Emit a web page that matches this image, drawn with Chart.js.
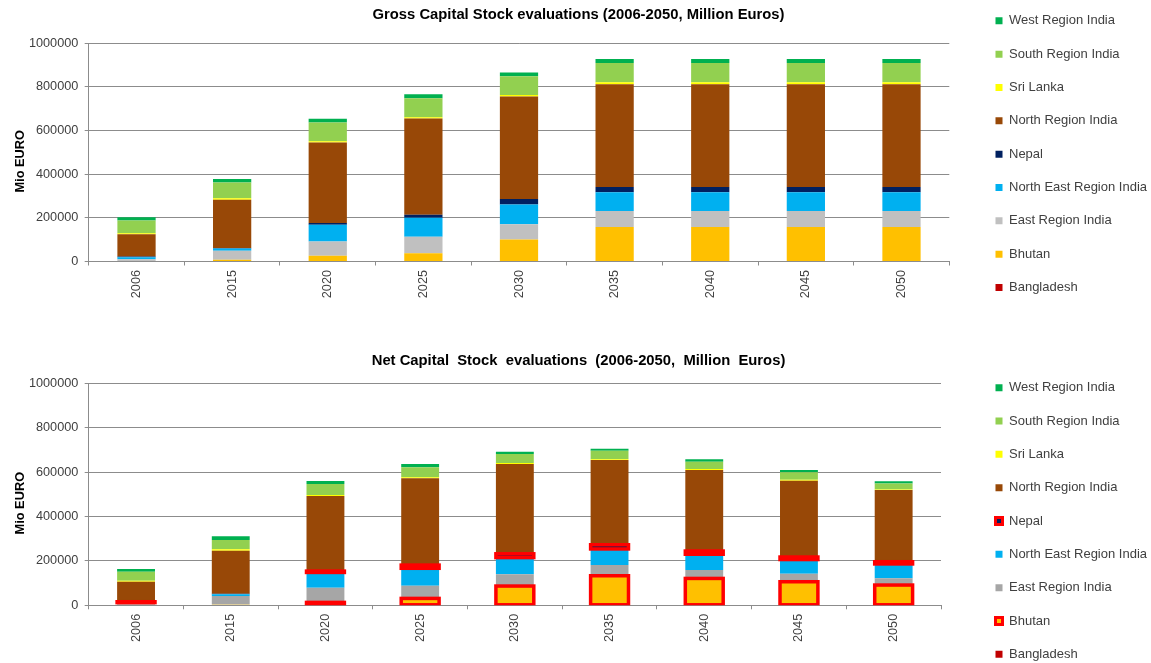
<!DOCTYPE html>
<html>
<head>
<meta charset="utf-8">
<title>Capital Stock evaluations 2006-2050</title>
<script src="https://cdn.jsdelivr.net/npm/chart.js@4.4.1/dist/chart.umd.min.js"></script>
<style>
  html, body { margin: 0; padding: 0; background: #fff; width: 1151px; height: 663px; overflow: hidden; }
  canvas { position: absolute; left: 0; }
  #gross { top: -6px; }
  #net { top: 335px; }
</style>
</head>
<body>
<canvas id="gross" width="1200" height="335"></canvas>
<canvas id="net" width="1200" height="355"></canvas>
<script>
const years = ['2006', '2015', '2020', '2025', '2030', '2035', '2040', '2045', '2050'];
// stacking order, bottom to top
const regions = ['Bangladesh', 'Bhutan', 'East Region India', 'North East Region India', 'Nepal',
  'North Region India', 'Sri Lanka', 'South Region India', 'West Region India'];
const yTicks = [0, 200000, 400000, 600000, 800000, 1000000];

// Gross capital stock, Mio EUR
const grossBangladesh = [0, 0, 0, 0, 0, 0, 0, 0, 0];
const grossBhutan = [0, 8000, 26000, 38000, 101000, 158000, 158000, 158000, 158000];
const grossEast = [10000, 41000, 66000, 75000, 70000, 73000, 73000, 73000, 73000];
const grossNorthEast = [9000, 10500, 76000, 87000, 90000, 86000, 86000, 86000, 86000];
const grossNepal = [4000, 2000, 9000, 14000, 26000, 24000, 24000, 24000, 24000];
const grossNorth = [102000, 222000, 368000, 441000, 469000, 471000, 471000, 471000, 471000];
const grossSriLanka = [4500, 6000, 6000, 6000, 7500, 9000, 9000, 9000, 9000];
const grossSouth = [58500, 72000, 85500, 87000, 85000, 88500, 88500, 88500, 88500];
const grossWest = [15000, 17000, 18000, 18000, 18000, 18000, 18000, 18000, 18000];

// Net capital stock, Mio EUR
const netBangladesh = [0, 0, 0, 0, 0, 0, 0, 0, 0];
const netBhutan = [0, 4000, 13000, 31000, 86700, 133100, 121000, 106100, 91200];
const netEast = [7000, 38000, 66300, 57300, 53000, 48500, 38000, 36300, 30400];
const netNorthEast = [5000, 8000, 68700, 78400, 75200, 72200, 71000, 63700, 64700];
const netNepal = [4000, 2000, 6000, 14400, 17100, 18900, 14400, 11300, 9900];
const netNorth = [90300, 194000, 338400, 391000, 404600, 381900, 365100, 343900, 323200];
const netSriLanka = [4500, 6000, 4500, 4500, 4500, 3000, 4500, 4500, 2000];
const netSouth = [40500, 42000, 49500, 45000, 40500, 39000, 33000, 33000, 27000];
const netWest = [12000, 16500, 13500, 15000, 10500, 9000, 10500, 10500, 10500];

const grossColors = ['#C00000', '#FFC000', '#C0C0C0', '#00B0F0', '#002060', '#984807', '#FFFF00', '#92D050', '#00B050'];
const netColors = ['#C00000', '#FFC000', '#A6A6A6', '#00B0F0', '#002060', '#984807', '#FFFF00', '#92D050', '#00B050'];

const FONT = '"Liberation Sans", Arial, sans-serif';
const INK = '#404040';
const GRID = '#8c8c8c';
const W = 1200;
const legendX = 995.5;     // left edge of the legend swatches
const legendPad = 20.33;
const legendFont = 13;

// red frame drawn centred on the bar edges (Excel style border)
const outlinePlugin = {
  id: 'outline',
  afterDatasetsDraw(chart) {
    const {ctx, chartArea} = chart;
    ctx.save();
    ctx.beginPath();
    ctx.rect(chartArea.left, chartArea.top, chartArea.right - chartArea.left, chartArea.bottom - chartArea.top);
    ctx.clip();
    chart.data.datasets.forEach((ds, i) => {
      if (!ds.outline) return;
      ctx.strokeStyle = ds.outline;
      ctx.lineWidth = 3.5;
      chart.getDatasetMeta(i).data.forEach(bar => {
        const {x, y, base, width} = bar.getProps(['x', 'y', 'base', 'width'], true);
        if (Math.abs(base - y) < 0.5) return;
        ctx.strokeRect(x - width / 2, Math.min(y, base), width, Math.abs(base - y));
      });
    });
    ctx.restore();
  }
};

function legendWidth() {
  const ctx = document.createElement('canvas').getContext('2d');
  ctx.font = legendFont + 'px ' + FONT;
  const widest = Math.max(...regions.map(r => ctx.measureText(r).width));
  return legendPad + 7 + legendFont / 2 + widest + 10;
}

function makeChart(id, o) {
  const canvas = document.getElementById(id);
  const legendLeft = legendX - legendPad;
  const padRight = W - legendLeft - legendWidth();
  const gap = legendLeft - o.plotRight;

  const datasets = regions.map((name, i) => ({
    label: name,
    data: o.values[i],
    backgroundColor: o.colors[i],
    yAxisID: 'y',
    inflateAmount: name === 'Bangladesh' ? 0 : 'auto',
    outline: o.outlined.includes(name) ? '#FF0000' : null
  }));

  return new Chart(canvas, {
    type: 'bar',
    data: { labels: years, datasets },
    options: {
      responsive: false,
      animation: false,
      layout: { padding: { left: 0, right: padRight, top: 0, bottom: 0 } },
      datasets: { bar: { barPercentage: 0.4, categoryPercentage: 1 } },
      scales: {
        x: {
          stacked: true,
          grid: { display: true, offset: true, drawOnChartArea: false, color: GRID, tickLength: 4 },
          border: { color: GRID },
          ticks: {
            minRotation: 90, maxRotation: 90, autoSkip: false, padding: 4.5,
            color: INK, font: { family: FONT, size: 12.7 }
          },
          afterFit: s => { s.height = canvas.height - o.plotBottom; }
        },
        y: {
          stacked: true,
          min: yTicks[0],
          max: yTicks[yTicks.length - 1],
          afterBuildTicks: s => { s.ticks = yTicks.map(v => ({ value: v })); },
          grid: { color: GRID, tickLength: 4 },
          border: { color: GRID },
          ticks: { padding: 6.4, color: INK, font: { family: FONT, size: 12.7 }, callback: v => String(v) },
          title: {
            display: true, text: 'Mio EURO     ', color: '#000',
            font: { family: FONT, size: 12.8, weight: 'bold' },
            padding: { top: 12.3, bottom: 0 }
          },
          afterFit: s => { s.width = 88.7; }
        },
        gap: {
          position: 'right',
          grid: { display: false },
          border: { display: false },
          ticks: { display: false },
          afterFit: s => { s.width = gap; }
        }
      },
      plugins: {
        title: {
          display: true, text: o.title, color: '#000',
          font: { family: FONT, size: 14.8, weight: 'bold' },
          padding: o.titlePad
        },
        legend: {
          position: 'right',
          align: 'start',
          reverse: true,
          maxWidth: 400,
          title: o.legendSpacer
            ? { display: true, text: ' ', font: { size: 10 }, padding: { top: 0, bottom: o.legendSpacer - 12 } }
            : { display: false },
          labels: {
            boxWidth: 7,
            boxHeight: 7,
            padding: legendPad,
            color: INK,
            font: { family: FONT, size: legendFont },
            generateLabels(chart) {
              const items = Chart.defaults.plugins.legend.labels.generateLabels(chart);
              items.forEach(item => {
                const ds = chart.data.datasets[item.datasetIndex];
                item.strokeStyle = ds.outline || item.fillStyle;
                item.lineWidth = ds.outline ? 3 : 0;
              });
              return items;
            }
          }
        },
        tooltip: { enabled: false }
      }
    },
    plugins: [outlinePlugin]
  });
}

makeChart('gross', {
  title: 'Gross Capital Stock evaluations (2006-2050, Million Euros)',
  values: [grossBangladesh, grossBhutan, grossEast, grossNorthEast, grossNepal,
    grossNorth, grossSriLanka, grossSouth, grossWest],
  colors: grossColors,
  outlined: [],
  titlePad: { top: 11.62, bottom: 19.92 },
  legendSpacer: 0,
  plotBottom: 267.5,
  plotRight: 949.3
});

makeChart('net', {
  title: 'Net Capital  Stock  evaluations  (2006-2050,  Million  Euros)',
  values: [netBangladesh, netBhutan, netEast, netNorthEast, netNepal,
    netNorth, netSriLanka, netSouth, netWest],
  colors: netColors,
  outlined: ['Nepal', 'Bhutan'],
  titlePad: { top: 16.62, bottom: 13.92 },
  legendSpacer: 25.87,
  plotBottom: 270.3,
  plotRight: 941
});
</script>
</body>
</html>
